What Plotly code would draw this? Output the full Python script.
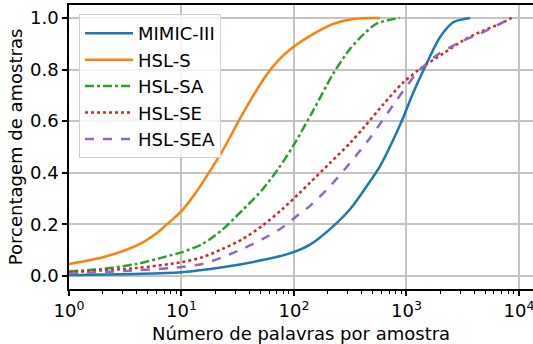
import plotly.graph_objects as go

# ---- data ----
series_names = ["MIMIC-III", "HSL-S", "HSL-SA", "HSL-SE", "HSL-SEA"]

mimic_x = [1, 10, 23.1, 52.4, 92, 139, 209, 315, 443, 581, 764, 938, 1148, 1510, 1986, 2606, 3664]
mimic_y = [0.004, 0.015, 0.034, 0.062, 0.088, 0.122, 0.182, 0.259, 0.348, 0.425, 0.528, 0.615, 0.71, 0.823, 0.925, 0.983, 1.0]

hsls_x = [1, 2.0, 3.98, 5.89, 7.76, 10, 13.4, 17.5, 22.8, 33.1, 43.6, 57.1, 75.2, 98.6, 149, 224, 337, 581]
hsls_y = [0.047, 0.073, 0.118, 0.163, 0.208, 0.252, 0.323, 0.4, 0.48, 0.61, 0.70, 0.78, 0.842, 0.887, 0.938, 0.977, 0.996, 1.0]

hslsa_x = [1, 2.0, 3.98, 7.76, 10, 15.3, 23.1, 34.8, 52.4, 73.6, 98.6, 149, 224, 315, 413, 543, 871]
hslsa_y = [0.018, 0.028, 0.047, 0.079, 0.092, 0.124, 0.18, 0.255, 0.335, 0.42, 0.505, 0.643, 0.785, 0.88, 0.935, 0.978, 1.0]

hslse_x = [1, 3.92, 10, 15.3, 23.1, 34.8, 52.4, 78.7, 111, 139, 209, 315, 413, 622, 938, 1413, 2123, 3199, 4819, 6776, 8610]
hslse_y = [0.015, 0.031, 0.054, 0.073, 0.105, 0.143, 0.195, 0.259, 0.32, 0.362, 0.438, 0.515, 0.573, 0.665, 0.75, 0.812, 0.862, 0.913, 0.951, 0.977, 1.0]

hslsea_x = [1, 3.92, 10, 15.3, 23.1, 34.8, 52.4, 78.7, 111, 139, 209, 315, 474, 819, 1230, 1854, 2992, 4819, 8610]
hslsea_y = [0.01, 0.022, 0.035, 0.047, 0.073, 0.105, 0.143, 0.188, 0.24, 0.272, 0.348, 0.438, 0.535, 0.682, 0.785, 0.855, 0.906, 0.945, 1.0]

x_tick_vals = [1, 10, 100, 1000, 10000]
x_tick_text = ["10<sup>0</sup>", "10<sup>1</sup>", "10<sup>2</sup>", "10<sup>3</sup>", "10<sup>4</sup>"]
x_minor_vals = [m * d for d in [1, 10, 100, 1000, 10000] for m in range(2, 10)]
y_tick_vals = [0.0, 0.2, 0.4, 0.6, 0.8, 1.0]
x_title = "Número de palavras por amostra"
y_title = "Porcentagem de amostras"

colors = ["#1f77b4", "#ff7f0e", "#2ca02c", "#d62728", "#9467bd"]
dashes = ["solid", "solid", "dashdot", "dot", "dash"]

xs = [mimic_x, hsls_x, hslsa_x, hslse_x, hslsea_x]
ys = [mimic_y, hsls_y, hslsa_y, hslse_y, hslsea_y]

fig = go.Figure()
for name, x, y, c, d in zip(series_names, xs, ys, colors, dashes):
    fig.add_trace(go.Scatter(
        x=x, y=y, mode="lines", name=name,
        line=dict(color=c, width=2.5, dash=d, shape="spline", smoothing=0.8),
    ))

font = dict(family="DejaVu Sans", size=18, color="black")

fig.update_layout(
    width=533, height=344,
    margin=dict(l=69, r=0, t=5, b=55),
    paper_bgcolor="white", plot_bgcolor="white",
    font=font,
    legend=dict(
        x=0.0216, y=0.968, xanchor="left", yanchor="top",
        bgcolor="rgba(255,255,255,0.8)", bordercolor="#d0d0d0", borderwidth=1,
        font=dict(family="DejaVu Sans", size=18, color="black"),
        itemwidth=48, tracegroupgap=0,
    ),
    annotations=[
        dict(text=x_title, xref="paper", yref="paper", x=0.5, y=-0.155,
             xanchor="center", yanchor="middle", showarrow=False, font=font),
        dict(text=y_title, xref="paper", yref="paper", x=-0.116, y=0.5,
             xanchor="center", yanchor="middle", textangle=-90, showarrow=False, font=font),
    ],
)

fig.update_xaxes(
    type="log", range=[0, 4.125],
    tickvals=x_tick_vals, ticktext=x_tick_text, ticklabeloverflow="allow",
    ticks="outside", ticklen=5, tickwidth=1.5, tickcolor="black",
    minor=dict(tickvals=x_minor_vals, ticks="outside", ticklen=3, tickwidth=1, tickcolor="black", showgrid=False),
    showgrid=True, gridcolor="#c4c4c4", gridwidth=1.5,
    showline=True, linecolor="black", linewidth=1.5, mirror=True,
    zeroline=False, automargin=False,
)
fig.update_yaxes(
    range=[-0.05, 1.05],
    tickvals=y_tick_vals, tickformat=".1f",
    ticks="outside", ticklen=5, tickwidth=1.5, tickcolor="black",
    showgrid=True, gridcolor="#c4c4c4", gridwidth=1.5,
    showline=True, linecolor="black", linewidth=1.5, mirror=True,
    zeroline=False, automargin=False,
)

fig.write_html("out.html", config={"displayModeBar": False},
               post_script="document.body.style.margin='0px';")
